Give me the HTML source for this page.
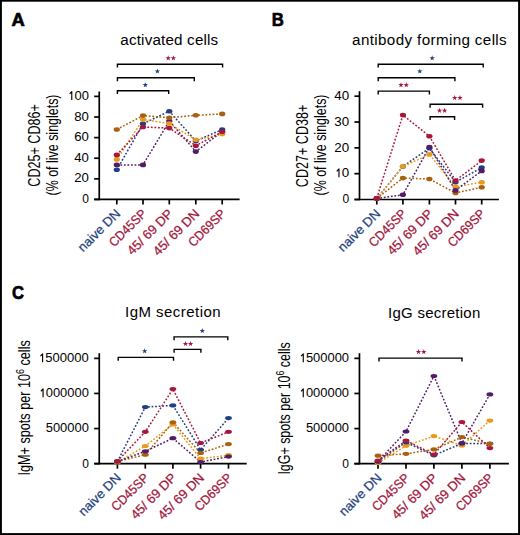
<!DOCTYPE html>
<html><head><meta charset="utf-8"><style>
html,body{margin:0;padding:0;background:#fff;width:520px;height:535px;overflow:hidden;font-family:"Liberation Sans", sans-serif;}
</style></head><body>
<svg width="520" height="535" viewBox="0 0 520 535" style="position:absolute;left:0;top:0" font-family='"Liberation Sans", sans-serif'>
<rect x="0" y="0" width="520" height="535" fill="#fff"/>
<rect x="0" y="0" width="520" height="1.7" fill="#000"/>
<rect x="0" y="0" width="1.9" height="535" fill="#000"/>
<rect x="518.1" y="0" width="1.9" height="535" fill="#000"/>
<rect x="0" y="533.1" width="520" height="1.9" fill="#000"/>
<text x="11.40" y="26.10" font-size="19.0" fill="#000" text-anchor="start" textLength="13.30" lengthAdjust="spacingAndGlyphs" font-weight="bold" stroke="#000" stroke-width="0.7">A</text>
<text x="271.80" y="26.20" font-size="19.0" fill="#000" text-anchor="start" textLength="12.10" lengthAdjust="spacingAndGlyphs" font-weight="bold" stroke="#000" stroke-width="0.7">B</text>
<text x="11.90" y="299.10" font-size="19.0" fill="#000" text-anchor="start" textLength="12.00" lengthAdjust="spacingAndGlyphs" font-weight="bold" stroke="#000" stroke-width="0.7">C</text>
<text x="120.30" y="44.50" font-size="15.2" fill="#000" text-anchor="start" textLength="97.90" lengthAdjust="spacing">activated cells</text>
<text x="352.10" y="45.00" font-size="15.2" fill="#000" text-anchor="start" textLength="154.60" lengthAdjust="spacing">antibody forming cells</text>
<text x="125.00" y="317.20" font-size="15.0" fill="#000" text-anchor="start" textLength="95.60" lengthAdjust="spacing">IgM secretion</text>
<text x="388.00" y="318.00" font-size="15.0" fill="#000" text-anchor="start" textLength="92.30" lengthAdjust="spacing">IgG secretion</text>
<line x1="99.25" y1="91.50" x2="99.25" y2="200.15" stroke="#000" stroke-width="1.7"/>
<line x1="94.30" y1="199.45" x2="239.60" y2="199.45" stroke="#000" stroke-width="1.7"/>
<line x1="94.15" y1="199.45" x2="99.25" y2="199.45" stroke="#000" stroke-width="1.7"/>
<text x="88.85" y="203.05" font-size="12" fill="#000" text-anchor="end">0</text>
<line x1="94.15" y1="178.84" x2="99.25" y2="178.84" stroke="#000" stroke-width="1.7"/>
<text x="88.85" y="182.44" font-size="12" fill="#000" text-anchor="end" textLength="14.70" lengthAdjust="spacingAndGlyphs">20</text>
<line x1="94.15" y1="158.23" x2="99.25" y2="158.23" stroke="#000" stroke-width="1.7"/>
<text x="88.85" y="161.83" font-size="12" fill="#000" text-anchor="end" textLength="14.70" lengthAdjust="spacingAndGlyphs">40</text>
<line x1="94.15" y1="137.62" x2="99.25" y2="137.62" stroke="#000" stroke-width="1.7"/>
<text x="88.85" y="141.22" font-size="12" fill="#000" text-anchor="end" textLength="14.70" lengthAdjust="spacingAndGlyphs">60</text>
<line x1="94.15" y1="117.01" x2="99.25" y2="117.01" stroke="#000" stroke-width="1.7"/>
<text x="88.85" y="120.61" font-size="12" fill="#000" text-anchor="end" textLength="14.70" lengthAdjust="spacingAndGlyphs">80</text>
<line x1="94.15" y1="96.40" x2="99.25" y2="96.40" stroke="#000" stroke-width="1.7"/>
<text x="88.85" y="100.00" font-size="12" fill="#000" text-anchor="end" textLength="21.60" lengthAdjust="spacingAndGlyphs"> 00</text>
<path d="M69.61 93.90 L71.77 91.60 V99.90" fill="none" stroke="#000" stroke-width="1.15" stroke-linejoin="round"/>
<line x1="116.80" y1="199.45" x2="116.80" y2="204.45" stroke="#000" stroke-width="1.7"/>
<line x1="143.00" y1="199.45" x2="143.00" y2="204.45" stroke="#000" stroke-width="1.7"/>
<line x1="169.30" y1="199.45" x2="169.30" y2="204.45" stroke="#000" stroke-width="1.7"/>
<line x1="195.80" y1="199.45" x2="195.80" y2="204.45" stroke="#000" stroke-width="1.7"/>
<line x1="222.20" y1="199.45" x2="222.20" y2="204.45" stroke="#000" stroke-width="1.7"/>
<path d="M116.80 164.90 L143.00 164.90 L169.30 121.00 L195.80 151.60 L222.20 131.50" fill="none" stroke="#531c68" stroke-width="1.5" stroke-dasharray="1.8 1.75"/>
<path d="M116.80 169.80 L143.00 123.80 L169.30 111.20 L195.80 141.00 L222.20 129.50" fill="none" stroke="#233f83" stroke-width="1.5" stroke-dasharray="1.8 1.75"/>
<path d="M116.80 159.40 L143.00 119.50 L169.30 123.50 L195.80 139.80 L222.20 134.00" fill="none" stroke="#e79a1c" stroke-width="1.5" stroke-dasharray="1.8 1.75"/>
<path d="M116.80 129.50 L143.00 115.60 L169.30 117.70 L195.80 115.30 L222.20 113.90" fill="none" stroke="#a8620f" stroke-width="1.5" stroke-dasharray="1.8 1.75"/>
<path d="M116.80 154.90 L143.00 127.00 L169.30 128.10 L195.80 145.70 L222.20 131.70" fill="none" stroke="#a8163c" stroke-width="1.5" stroke-dasharray="1.8 1.75"/>
<ellipse cx="116.80" cy="164.90" rx="3.1" ry="2.3" fill="#531c68"/>
<ellipse cx="143.00" cy="164.90" rx="3.1" ry="2.3" fill="#531c68"/>
<ellipse cx="169.30" cy="121.00" rx="3.1" ry="2.3" fill="#531c68"/>
<ellipse cx="195.80" cy="151.60" rx="3.1" ry="2.3" fill="#531c68"/>
<ellipse cx="222.20" cy="131.50" rx="3.1" ry="2.3" fill="#531c68"/>
<ellipse cx="116.80" cy="169.80" rx="3.1" ry="2.3" fill="#233f83"/>
<ellipse cx="143.00" cy="123.80" rx="3.1" ry="2.3" fill="#233f83"/>
<ellipse cx="169.30" cy="111.20" rx="3.1" ry="2.3" fill="#233f83"/>
<ellipse cx="195.80" cy="141.00" rx="3.1" ry="2.3" fill="#233f83"/>
<ellipse cx="222.20" cy="129.50" rx="3.1" ry="2.3" fill="#233f83"/>
<ellipse cx="116.80" cy="159.40" rx="3.1" ry="2.3" fill="#e79a1c"/>
<ellipse cx="143.00" cy="119.50" rx="3.1" ry="2.3" fill="#e79a1c"/>
<ellipse cx="169.30" cy="123.50" rx="3.1" ry="2.3" fill="#e79a1c"/>
<ellipse cx="195.80" cy="139.80" rx="3.1" ry="2.3" fill="#e79a1c"/>
<ellipse cx="222.20" cy="134.00" rx="3.1" ry="2.3" fill="#e79a1c"/>
<ellipse cx="116.80" cy="129.50" rx="3.1" ry="2.3" fill="#a8620f"/>
<ellipse cx="143.00" cy="115.60" rx="3.1" ry="2.3" fill="#a8620f"/>
<ellipse cx="169.30" cy="117.70" rx="3.1" ry="2.3" fill="#a8620f"/>
<ellipse cx="195.80" cy="115.30" rx="3.1" ry="2.3" fill="#a8620f"/>
<ellipse cx="222.20" cy="113.90" rx="3.1" ry="2.3" fill="#a8620f"/>
<ellipse cx="116.80" cy="154.90" rx="3.1" ry="2.3" fill="#a8163c"/>
<ellipse cx="143.00" cy="127.00" rx="3.1" ry="2.3" fill="#a8163c"/>
<ellipse cx="169.30" cy="128.10" rx="3.1" ry="2.3" fill="#a8163c"/>
<ellipse cx="195.80" cy="145.70" rx="3.1" ry="2.3" fill="#a8163c"/>
<ellipse cx="222.20" cy="131.70" rx="3.1" ry="2.3" fill="#a8163c"/>
<text x="0" y="0" font-size="13" fill="#27437e" stroke="#27437e" stroke-width="0.25" text-anchor="end" textLength="53.90" lengthAdjust="spacingAndGlyphs" transform="translate(121.15 214.45) rotate(-45)">naive DN</text>
<text x="0" y="0" font-size="13" fill="#a3163b" stroke="#a3163b" stroke-width="0.25" text-anchor="end" textLength="46.90" lengthAdjust="spacingAndGlyphs" transform="translate(147.35 214.45) rotate(-45)">CD45SP</text>
<text x="0" y="0" font-size="13" fill="#a3163b" stroke="#a3163b" stroke-width="0.25" text-anchor="end" textLength="58.50" lengthAdjust="spacingAndGlyphs" transform="translate(173.65 214.45) rotate(-45)">45/ 69 DP</text>
<text x="0" y="0" font-size="13" fill="#a3163b" stroke="#a3163b" stroke-width="0.25" text-anchor="end" textLength="59.30" lengthAdjust="spacingAndGlyphs" transform="translate(200.15 214.45) rotate(-45)">45/ 69 DN</text>
<text x="0" y="0" font-size="13" fill="#a3163b" stroke="#a3163b" stroke-width="0.25" text-anchor="end" textLength="46.90" lengthAdjust="spacingAndGlyphs" transform="translate(226.55 214.45) rotate(-45)">CD69SP</text>
<line x1="359.50" y1="91.20" x2="359.50" y2="200.20" stroke="#000" stroke-width="1.7"/>
<line x1="354.60" y1="199.50" x2="498.90" y2="199.50" stroke="#000" stroke-width="1.7"/>
<line x1="354.40" y1="199.50" x2="359.50" y2="199.50" stroke="#000" stroke-width="1.7"/>
<text x="349.20" y="203.20" font-size="12" fill="#000" text-anchor="end">0</text>
<line x1="354.40" y1="173.68" x2="359.50" y2="173.68" stroke="#000" stroke-width="1.7"/>
<text x="349.20" y="177.38" font-size="12" fill="#000" text-anchor="end" textLength="14.90" lengthAdjust="spacingAndGlyphs"> 0</text>
<path d="M336.74 171.28 L338.97 168.97 V177.28" fill="none" stroke="#000" stroke-width="1.15" stroke-linejoin="round"/>
<line x1="354.40" y1="147.85" x2="359.50" y2="147.85" stroke="#000" stroke-width="1.7"/>
<text x="349.20" y="151.55" font-size="12" fill="#000" text-anchor="end" textLength="14.90" lengthAdjust="spacingAndGlyphs">20</text>
<line x1="354.40" y1="122.03" x2="359.50" y2="122.03" stroke="#000" stroke-width="1.7"/>
<text x="349.20" y="125.73" font-size="12" fill="#000" text-anchor="end" textLength="14.90" lengthAdjust="spacingAndGlyphs">30</text>
<line x1="354.40" y1="96.20" x2="359.50" y2="96.20" stroke="#000" stroke-width="1.7"/>
<text x="349.20" y="99.90" font-size="12" fill="#000" text-anchor="end" textLength="14.90" lengthAdjust="spacingAndGlyphs">40</text>
<line x1="376.80" y1="199.50" x2="376.80" y2="204.50" stroke="#000" stroke-width="1.7"/>
<line x1="402.90" y1="199.50" x2="402.90" y2="204.50" stroke="#000" stroke-width="1.7"/>
<line x1="429.40" y1="199.50" x2="429.40" y2="204.50" stroke="#000" stroke-width="1.7"/>
<line x1="455.50" y1="199.50" x2="455.50" y2="204.50" stroke="#000" stroke-width="1.7"/>
<line x1="481.70" y1="199.50" x2="481.70" y2="204.50" stroke="#000" stroke-width="1.7"/>
<path d="M376.80 198.50 L402.90 178.10 L429.40 179.00 L455.50 193.00 L481.70 187.30" fill="none" stroke="#a8620f" stroke-width="1.5" stroke-dasharray="1.8 1.75"/>
<path d="M376.80 198.50 L402.90 166.50 L429.40 148.30 L455.50 182.20 L481.70 167.60" fill="none" stroke="#233f83" stroke-width="1.5" stroke-dasharray="1.8 1.75"/>
<path d="M376.80 198.50 L402.90 166.50 L429.40 154.40 L455.50 186.80 L481.70 182.20" fill="none" stroke="#e79a1c" stroke-width="1.5" stroke-dasharray="1.8 1.75"/>
<path d="M376.80 198.50 L402.90 194.80 L429.40 147.00 L455.50 190.40 L481.70 170.90" fill="none" stroke="#531c68" stroke-width="1.5" stroke-dasharray="1.8 1.75"/>
<path d="M376.80 198.10 L402.90 115.10 L429.40 136.20 L455.50 180.60 L481.70 160.60" fill="none" stroke="#a8163c" stroke-width="1.5" stroke-dasharray="1.8 1.75"/>
<ellipse cx="376.80" cy="198.50" rx="3.1" ry="2.3" fill="#a8620f"/>
<ellipse cx="402.90" cy="178.10" rx="3.1" ry="2.3" fill="#a8620f"/>
<ellipse cx="429.40" cy="179.00" rx="3.1" ry="2.3" fill="#a8620f"/>
<ellipse cx="455.50" cy="193.00" rx="3.1" ry="2.3" fill="#a8620f"/>
<ellipse cx="481.70" cy="187.30" rx="3.1" ry="2.3" fill="#a8620f"/>
<ellipse cx="376.80" cy="198.50" rx="3.1" ry="2.3" fill="#233f83"/>
<ellipse cx="402.90" cy="166.50" rx="3.1" ry="2.3" fill="#233f83"/>
<ellipse cx="429.40" cy="148.30" rx="3.1" ry="2.3" fill="#233f83"/>
<ellipse cx="455.50" cy="182.20" rx="3.1" ry="2.3" fill="#233f83"/>
<ellipse cx="481.70" cy="167.60" rx="3.1" ry="2.3" fill="#233f83"/>
<ellipse cx="376.80" cy="198.50" rx="3.1" ry="2.3" fill="#e79a1c"/>
<ellipse cx="402.90" cy="166.50" rx="3.1" ry="2.3" fill="#e79a1c"/>
<ellipse cx="429.40" cy="154.40" rx="3.1" ry="2.3" fill="#e79a1c"/>
<ellipse cx="455.50" cy="186.80" rx="3.1" ry="2.3" fill="#e79a1c"/>
<ellipse cx="481.70" cy="182.20" rx="3.1" ry="2.3" fill="#e79a1c"/>
<ellipse cx="376.80" cy="198.50" rx="3.1" ry="2.3" fill="#531c68"/>
<ellipse cx="402.90" cy="194.80" rx="3.1" ry="2.3" fill="#531c68"/>
<ellipse cx="429.40" cy="147.00" rx="3.1" ry="2.3" fill="#531c68"/>
<ellipse cx="455.50" cy="190.40" rx="3.1" ry="2.3" fill="#531c68"/>
<ellipse cx="481.70" cy="170.90" rx="3.1" ry="2.3" fill="#531c68"/>
<ellipse cx="376.80" cy="198.10" rx="3.1" ry="2.3" fill="#a8163c"/>
<ellipse cx="402.90" cy="115.10" rx="3.1" ry="2.3" fill="#a8163c"/>
<ellipse cx="429.40" cy="136.20" rx="3.1" ry="2.3" fill="#a8163c"/>
<ellipse cx="455.50" cy="180.60" rx="3.1" ry="2.3" fill="#a8163c"/>
<ellipse cx="481.70" cy="160.60" rx="3.1" ry="2.3" fill="#a8163c"/>
<text x="0" y="0" font-size="13" fill="#27437e" stroke="#27437e" stroke-width="0.25" text-anchor="end" textLength="53.90" lengthAdjust="spacingAndGlyphs" transform="translate(381.15 214.50) rotate(-45)">naive DN</text>
<text x="0" y="0" font-size="13" fill="#a3163b" stroke="#a3163b" stroke-width="0.25" text-anchor="end" textLength="46.90" lengthAdjust="spacingAndGlyphs" transform="translate(407.25 214.50) rotate(-45)">CD45SP</text>
<text x="0" y="0" font-size="13" fill="#a3163b" stroke="#a3163b" stroke-width="0.25" text-anchor="end" textLength="58.50" lengthAdjust="spacingAndGlyphs" transform="translate(433.75 214.50) rotate(-45)">45/ 69 DP</text>
<text x="0" y="0" font-size="13" fill="#a3163b" stroke="#a3163b" stroke-width="0.25" text-anchor="end" textLength="59.30" lengthAdjust="spacingAndGlyphs" transform="translate(459.85 214.50) rotate(-45)">45/ 69 DN</text>
<text x="0" y="0" font-size="13" fill="#a3163b" stroke="#a3163b" stroke-width="0.25" text-anchor="end" textLength="46.90" lengthAdjust="spacingAndGlyphs" transform="translate(486.05 214.50) rotate(-45)">CD69SP</text>
<line x1="99.25" y1="353.20" x2="99.25" y2="464.35" stroke="#000" stroke-width="1.7"/>
<line x1="94.30" y1="463.65" x2="246.70" y2="463.65" stroke="#000" stroke-width="1.7"/>
<line x1="94.15" y1="463.65" x2="99.25" y2="463.65" stroke="#000" stroke-width="1.7"/>
<text x="88.85" y="467.55" font-size="12" fill="#000" text-anchor="end">0</text>
<line x1="94.15" y1="428.55" x2="99.25" y2="428.55" stroke="#000" stroke-width="1.7"/>
<text x="88.85" y="432.45" font-size="12" fill="#000" text-anchor="end" textLength="43.10" lengthAdjust="spacingAndGlyphs">500000</text>
<line x1="94.15" y1="393.46" x2="99.25" y2="393.46" stroke="#000" stroke-width="1.7"/>
<text x="88.85" y="397.36" font-size="12" fill="#000" text-anchor="end" textLength="50.30" lengthAdjust="spacingAndGlyphs"> 000000</text>
<path d="M40.91 391.26 L43.06 388.96 V397.26" fill="none" stroke="#000" stroke-width="1.15" stroke-linejoin="round"/>
<line x1="94.15" y1="358.37" x2="99.25" y2="358.37" stroke="#000" stroke-width="1.7"/>
<text x="88.85" y="362.26" font-size="12" fill="#000" text-anchor="end" textLength="50.80" lengthAdjust="spacingAndGlyphs"> 500000</text>
<path d="M40.43 356.17 L42.60 353.87 V362.16" fill="none" stroke="#000" stroke-width="1.15" stroke-linejoin="round"/>
<line x1="117.40" y1="463.65" x2="117.40" y2="468.65" stroke="#000" stroke-width="1.7"/>
<line x1="145.30" y1="463.65" x2="145.30" y2="468.65" stroke="#000" stroke-width="1.7"/>
<line x1="172.90" y1="463.65" x2="172.90" y2="468.65" stroke="#000" stroke-width="1.7"/>
<line x1="200.60" y1="463.65" x2="200.60" y2="468.65" stroke="#000" stroke-width="1.7"/>
<line x1="228.50" y1="463.65" x2="228.50" y2="468.65" stroke="#000" stroke-width="1.7"/>
<path d="M117.40 461.50 L145.30 407.10 L172.90 405.40 L200.60 449.80 L228.50 418.10" fill="none" stroke="#233f83" stroke-width="1.5" stroke-dasharray="1.8 1.75"/>
<path d="M117.40 462.50 L145.30 446.00 L172.90 424.40 L200.60 458.70 L228.50 455.10" fill="none" stroke="#e79a1c" stroke-width="1.5" stroke-dasharray="1.8 1.75"/>
<path d="M117.40 461.50 L145.30 454.70 L172.90 422.30 L200.60 453.00 L228.50 444.10" fill="none" stroke="#a8620f" stroke-width="1.5" stroke-dasharray="1.8 1.75"/>
<path d="M117.40 461.50 L145.30 451.30 L172.90 438.20 L200.60 462.00 L228.50 456.60" fill="none" stroke="#531c68" stroke-width="1.5" stroke-dasharray="1.8 1.75"/>
<path d="M117.40 461.10 L145.30 431.80 L172.90 389.10 L200.60 443.00 L228.50 431.80" fill="none" stroke="#a8163c" stroke-width="1.5" stroke-dasharray="1.8 1.75"/>
<ellipse cx="117.40" cy="461.50" rx="3.4" ry="2.1" fill="#233f83"/>
<ellipse cx="145.30" cy="407.10" rx="3.4" ry="2.1" fill="#233f83"/>
<ellipse cx="172.90" cy="405.40" rx="3.4" ry="2.1" fill="#233f83"/>
<ellipse cx="200.60" cy="449.80" rx="3.4" ry="2.1" fill="#233f83"/>
<ellipse cx="228.50" cy="418.10" rx="3.4" ry="2.1" fill="#233f83"/>
<ellipse cx="117.40" cy="462.50" rx="3.4" ry="2.1" fill="#e79a1c"/>
<ellipse cx="145.30" cy="446.00" rx="3.4" ry="2.1" fill="#e79a1c"/>
<ellipse cx="172.90" cy="424.40" rx="3.4" ry="2.1" fill="#e79a1c"/>
<ellipse cx="200.60" cy="458.70" rx="3.4" ry="2.1" fill="#e79a1c"/>
<ellipse cx="228.50" cy="455.10" rx="3.4" ry="2.1" fill="#e79a1c"/>
<ellipse cx="117.40" cy="461.50" rx="3.4" ry="2.1" fill="#a8620f"/>
<ellipse cx="145.30" cy="454.70" rx="3.4" ry="2.1" fill="#a8620f"/>
<ellipse cx="172.90" cy="422.30" rx="3.4" ry="2.1" fill="#a8620f"/>
<ellipse cx="200.60" cy="453.00" rx="3.4" ry="2.1" fill="#a8620f"/>
<ellipse cx="228.50" cy="444.10" rx="3.4" ry="2.1" fill="#a8620f"/>
<ellipse cx="117.40" cy="461.50" rx="3.4" ry="2.1" fill="#531c68"/>
<ellipse cx="145.30" cy="451.30" rx="3.4" ry="2.1" fill="#531c68"/>
<ellipse cx="172.90" cy="438.20" rx="3.4" ry="2.1" fill="#531c68"/>
<ellipse cx="200.60" cy="462.00" rx="3.4" ry="2.1" fill="#531c68"/>
<ellipse cx="228.50" cy="456.60" rx="3.4" ry="2.1" fill="#531c68"/>
<ellipse cx="117.40" cy="461.10" rx="3.4" ry="2.1" fill="#a8163c"/>
<ellipse cx="145.30" cy="431.80" rx="3.4" ry="2.1" fill="#a8163c"/>
<ellipse cx="172.90" cy="389.10" rx="3.4" ry="2.1" fill="#a8163c"/>
<ellipse cx="200.60" cy="443.00" rx="3.4" ry="2.1" fill="#a8163c"/>
<ellipse cx="228.50" cy="431.80" rx="3.4" ry="2.1" fill="#a8163c"/>
<text x="0" y="0" font-size="13" fill="#27437e" stroke="#27437e" stroke-width="0.25" text-anchor="end" textLength="53.90" lengthAdjust="spacingAndGlyphs" transform="translate(121.75 478.65) rotate(-45)">naive DN</text>
<text x="0" y="0" font-size="13" fill="#a3163b" stroke="#a3163b" stroke-width="0.25" text-anchor="end" textLength="46.90" lengthAdjust="spacingAndGlyphs" transform="translate(149.65 478.65) rotate(-45)">CD45SP</text>
<text x="0" y="0" font-size="13" fill="#a3163b" stroke="#a3163b" stroke-width="0.25" text-anchor="end" textLength="58.50" lengthAdjust="spacingAndGlyphs" transform="translate(177.25 478.65) rotate(-45)">45/ 69 DP</text>
<text x="0" y="0" font-size="13" fill="#a3163b" stroke="#a3163b" stroke-width="0.25" text-anchor="end" textLength="59.30" lengthAdjust="spacingAndGlyphs" transform="translate(204.95 478.65) rotate(-45)">45/ 69 DN</text>
<text x="0" y="0" font-size="13" fill="#a3163b" stroke="#a3163b" stroke-width="0.25" text-anchor="end" textLength="46.90" lengthAdjust="spacingAndGlyphs" transform="translate(232.85 478.65) rotate(-45)">CD69SP</text>
<line x1="359.45" y1="353.20" x2="359.45" y2="464.40" stroke="#000" stroke-width="1.7"/>
<line x1="354.40" y1="463.70" x2="508.90" y2="463.70" stroke="#000" stroke-width="1.7"/>
<line x1="354.35" y1="463.70" x2="359.45" y2="463.70" stroke="#000" stroke-width="1.7"/>
<text x="349.05" y="467.60" font-size="12" fill="#000" text-anchor="end">0</text>
<line x1="354.35" y1="428.58" x2="359.45" y2="428.58" stroke="#000" stroke-width="1.7"/>
<text x="349.05" y="432.48" font-size="12" fill="#000" text-anchor="end" textLength="43.10" lengthAdjust="spacingAndGlyphs">500000</text>
<line x1="354.35" y1="393.47" x2="359.45" y2="393.47" stroke="#000" stroke-width="1.7"/>
<text x="349.05" y="397.37" font-size="12" fill="#000" text-anchor="end" textLength="50.30" lengthAdjust="spacingAndGlyphs"> 000000</text>
<path d="M301.11 391.27 L303.26 388.97 V397.27" fill="none" stroke="#000" stroke-width="1.15" stroke-linejoin="round"/>
<line x1="354.35" y1="358.36" x2="359.45" y2="358.36" stroke="#000" stroke-width="1.7"/>
<text x="349.05" y="362.25" font-size="12" fill="#000" text-anchor="end" textLength="50.30" lengthAdjust="spacingAndGlyphs"> 500000</text>
<path d="M301.11 356.16 L303.26 353.86 V362.15" fill="none" stroke="#000" stroke-width="1.15" stroke-linejoin="round"/>
<line x1="378.00" y1="463.70" x2="378.00" y2="468.70" stroke="#000" stroke-width="1.7"/>
<line x1="406.00" y1="463.70" x2="406.00" y2="468.70" stroke="#000" stroke-width="1.7"/>
<line x1="433.90" y1="463.70" x2="433.90" y2="468.70" stroke="#000" stroke-width="1.7"/>
<line x1="461.90" y1="463.70" x2="461.90" y2="468.70" stroke="#000" stroke-width="1.7"/>
<line x1="489.90" y1="463.70" x2="489.90" y2="468.70" stroke="#000" stroke-width="1.7"/>
<path d="M378.00 463.00 L406.00 445.80 L433.90 436.10 L461.90 445.60 L489.90 420.60" fill="none" stroke="#e79a1c" stroke-width="1.5" stroke-dasharray="1.8 1.75"/>
<path d="M378.00 461.50 L406.00 442.30 L433.90 455.30 L461.90 443.50 L489.90 443.50" fill="none" stroke="#233f83" stroke-width="1.5" stroke-dasharray="1.8 1.75"/>
<path d="M378.00 455.70 L406.00 453.80 L433.90 449.40 L461.90 437.10 L489.90 443.80" fill="none" stroke="#a8620f" stroke-width="1.5" stroke-dasharray="1.8 1.75"/>
<path d="M378.00 461.50 L406.00 431.50 L433.90 376.00 L461.90 443.20 L489.90 394.40" fill="none" stroke="#531c68" stroke-width="1.5" stroke-dasharray="1.8 1.75"/>
<path d="M378.00 460.50 L406.00 440.60 L433.90 454.50 L461.90 422.00 L489.90 448.10" fill="none" stroke="#a8163c" stroke-width="1.5" stroke-dasharray="1.8 1.75"/>
<ellipse cx="378.00" cy="463.00" rx="3.4" ry="2.1" fill="#e79a1c"/>
<ellipse cx="406.00" cy="445.80" rx="3.4" ry="2.1" fill="#e79a1c"/>
<ellipse cx="433.90" cy="436.10" rx="3.4" ry="2.1" fill="#e79a1c"/>
<ellipse cx="461.90" cy="445.60" rx="3.4" ry="2.1" fill="#e79a1c"/>
<ellipse cx="489.90" cy="420.60" rx="3.4" ry="2.1" fill="#e79a1c"/>
<ellipse cx="378.00" cy="461.50" rx="3.4" ry="2.1" fill="#233f83"/>
<ellipse cx="406.00" cy="442.30" rx="3.4" ry="2.1" fill="#233f83"/>
<ellipse cx="433.90" cy="455.30" rx="3.4" ry="2.1" fill="#233f83"/>
<ellipse cx="461.90" cy="443.50" rx="3.4" ry="2.1" fill="#233f83"/>
<ellipse cx="489.90" cy="443.50" rx="3.4" ry="2.1" fill="#233f83"/>
<ellipse cx="378.00" cy="455.70" rx="3.4" ry="2.1" fill="#a8620f"/>
<ellipse cx="406.00" cy="453.80" rx="3.4" ry="2.1" fill="#a8620f"/>
<ellipse cx="433.90" cy="449.40" rx="3.4" ry="2.1" fill="#a8620f"/>
<ellipse cx="461.90" cy="437.10" rx="3.4" ry="2.1" fill="#a8620f"/>
<ellipse cx="489.90" cy="443.80" rx="3.4" ry="2.1" fill="#a8620f"/>
<ellipse cx="378.00" cy="461.50" rx="3.4" ry="2.1" fill="#531c68"/>
<ellipse cx="406.00" cy="431.50" rx="3.4" ry="2.1" fill="#531c68"/>
<ellipse cx="433.90" cy="376.00" rx="3.4" ry="2.1" fill="#531c68"/>
<ellipse cx="461.90" cy="443.20" rx="3.4" ry="2.1" fill="#531c68"/>
<ellipse cx="489.90" cy="394.40" rx="3.4" ry="2.1" fill="#531c68"/>
<ellipse cx="378.00" cy="460.50" rx="3.4" ry="2.1" fill="#a8163c"/>
<ellipse cx="406.00" cy="440.60" rx="3.4" ry="2.1" fill="#a8163c"/>
<ellipse cx="433.90" cy="454.50" rx="3.4" ry="2.1" fill="#a8163c"/>
<ellipse cx="461.90" cy="422.00" rx="3.4" ry="2.1" fill="#a8163c"/>
<ellipse cx="489.90" cy="448.10" rx="3.4" ry="2.1" fill="#a8163c"/>
<text x="0" y="0" font-size="13" fill="#27437e" stroke="#27437e" stroke-width="0.25" text-anchor="end" textLength="53.90" lengthAdjust="spacingAndGlyphs" transform="translate(382.35 478.70) rotate(-45)">naive DN</text>
<text x="0" y="0" font-size="13" fill="#a3163b" stroke="#a3163b" stroke-width="0.25" text-anchor="end" textLength="46.90" lengthAdjust="spacingAndGlyphs" transform="translate(410.35 478.70) rotate(-45)">CD45SP</text>
<text x="0" y="0" font-size="13" fill="#a3163b" stroke="#a3163b" stroke-width="0.25" text-anchor="end" textLength="58.50" lengthAdjust="spacingAndGlyphs" transform="translate(438.25 478.70) rotate(-45)">45/ 69 DP</text>
<text x="0" y="0" font-size="13" fill="#a3163b" stroke="#a3163b" stroke-width="0.25" text-anchor="end" textLength="59.30" lengthAdjust="spacingAndGlyphs" transform="translate(466.25 478.70) rotate(-45)">45/ 69 DN</text>
<text x="0" y="0" font-size="13" fill="#a3163b" stroke="#a3163b" stroke-width="0.25" text-anchor="end" textLength="46.90" lengthAdjust="spacingAndGlyphs" transform="translate(494.25 478.70) rotate(-45)">CD69SP</text>
<path d="M117.40 67.60 V64.20 H222.60 V67.60" fill="none" stroke="#000" stroke-width="1.4"/>
<polygon points="168.20,55.25 168.87,57.18 170.91,57.22 169.28,58.45 169.88,60.41 168.20,59.24 166.52,60.41 167.12,58.45 165.49,57.22 167.53,57.18" fill="#a8163c"/>
<polygon points="173.40,55.25 174.07,57.18 176.11,57.22 174.48,58.45 175.08,60.41 173.40,59.24 171.72,60.41 172.32,58.45 170.69,57.22 172.73,57.18" fill="#a8163c"/>
<path d="M117.40 81.20 V77.80 H194.30 V81.20" fill="none" stroke="#000" stroke-width="1.4"/>
<polygon points="157.40,68.45 158.07,70.38 160.11,70.42 158.48,71.65 159.08,73.61 157.40,72.44 155.72,73.61 156.32,71.65 154.69,70.42 156.73,70.38" fill="#233f83"/>
<path d="M117.40 94.10 V90.70 H168.70 V94.10" fill="none" stroke="#000" stroke-width="1.4"/>
<polygon points="145.30,82.15 145.97,84.08 148.01,84.12 146.38,85.35 146.98,87.31 145.30,86.14 143.62,87.31 144.22,85.35 142.59,84.12 144.63,84.08" fill="#233f83"/>
<path d="M378.20 67.60 V64.20 H483.20 V67.60" fill="none" stroke="#000" stroke-width="1.4"/>
<polygon points="432.20,55.25 432.87,57.18 434.91,57.22 433.28,58.45 433.88,60.41 432.20,59.24 430.52,60.41 431.12,58.45 429.49,57.22 431.53,57.18" fill="#233f83"/>
<path d="M378.20 81.20 V77.80 H454.90 V81.20" fill="none" stroke="#000" stroke-width="1.4"/>
<polygon points="419.80,68.45 420.47,70.38 422.51,70.42 420.88,71.65 421.48,73.61 419.80,72.44 418.12,73.61 418.72,71.65 417.09,70.42 419.13,70.38" fill="#233f83"/>
<path d="M378.20 94.50 V91.10 H429.40 V94.50" fill="none" stroke="#000" stroke-width="1.4"/>
<polygon points="401.00,82.15 401.67,84.08 403.71,84.12 402.08,85.35 402.68,87.31 401.00,86.14 399.32,87.31 399.92,85.35 398.29,84.12 400.33,84.08" fill="#a8163c"/>
<polygon points="406.30,82.15 406.97,84.08 409.01,84.12 407.38,85.35 407.98,87.31 406.30,86.14 404.62,87.31 405.22,85.35 403.59,84.12 405.63,84.08" fill="#a8163c"/>
<path d="M430.10 107.70 V104.30 H482.60 V107.70" fill="none" stroke="#000" stroke-width="1.4"/>
<polygon points="454.70,95.05 455.37,96.98 457.41,97.02 455.78,98.25 456.38,100.21 454.70,99.04 453.02,100.21 453.62,98.25 451.99,97.02 454.03,96.98" fill="#a8163c"/>
<polygon points="460.00,95.05 460.67,96.98 462.71,97.02 461.08,98.25 461.68,100.21 460.00,99.04 458.32,100.21 458.92,98.25 457.29,97.02 459.33,96.98" fill="#a8163c"/>
<path d="M430.10 120.10 V116.70 H454.60 V120.10" fill="none" stroke="#000" stroke-width="1.4"/>
<polygon points="439.50,107.85 440.17,109.78 442.21,109.82 440.58,111.05 441.18,113.01 439.50,111.84 437.82,113.01 438.42,111.05 436.79,109.82 438.83,109.78" fill="#a8163c"/>
<polygon points="444.60,107.85 445.27,109.78 447.31,109.82 445.68,111.05 446.28,113.01 444.60,111.84 442.92,113.01 443.52,111.05 441.89,109.82 443.93,109.78" fill="#a8163c"/>
<path d="M174.10 340.30 V336.90 H227.80 V340.30" fill="none" stroke="#000" stroke-width="1.4"/>
<polygon points="202.30,327.95 202.97,329.88 205.01,329.92 203.38,331.15 203.98,333.11 202.30,331.94 200.62,333.11 201.22,331.15 199.59,329.92 201.63,329.88" fill="#233f83"/>
<path d="M174.10 352.80 V349.40 H200.90 V352.80" fill="none" stroke="#000" stroke-width="1.4"/>
<polygon points="185.50,340.95 186.17,342.88 188.21,342.92 186.58,344.15 187.18,346.11 185.50,344.94 183.82,346.11 184.42,344.15 182.79,342.92 184.83,342.88" fill="#a8163c"/>
<polygon points="190.60,340.95 191.27,342.88 193.31,342.92 191.68,344.15 192.28,346.11 190.60,344.94 188.92,346.11 189.52,344.15 187.89,342.92 189.93,342.88" fill="#a8163c"/>
<path d="M118.20 360.80 V357.40 H173.50 V360.80" fill="none" stroke="#000" stroke-width="1.4"/>
<polygon points="144.70,348.35 145.37,350.28 147.41,350.32 145.78,351.55 146.38,353.51 144.70,352.34 143.02,353.51 143.62,351.55 141.99,350.32 144.03,350.28" fill="#233f83"/>
<path d="M379.00 361.50 V358.10 H462.00 V361.50" fill="none" stroke="#000" stroke-width="1.4"/>
<polygon points="418.50,349.05 419.17,350.98 421.21,351.02 419.58,352.25 420.18,354.21 418.50,353.04 416.82,354.21 417.42,352.25 415.79,351.02 417.83,350.98" fill="#a8163c"/>
<polygon points="423.80,349.05 424.47,350.98 426.51,351.02 424.88,352.25 425.48,354.21 423.80,353.04 422.12,354.21 422.72,352.25 421.09,351.02 423.13,350.98" fill="#a8163c"/>
<text x="0" y="0" font-size="15.6" textLength="82.50" lengthAdjust="spacingAndGlyphs" transform="translate(40.20 186.70) rotate(-90)">CD25+ CD86+</text>
<text x="0" y="0" font-size="15.6" textLength="101.00" lengthAdjust="spacingAndGlyphs" transform="translate(58.30 195.50) rotate(-90)">(% of live singlets)</text>
<text x="0" y="0" font-size="15.6" textLength="82.60" lengthAdjust="spacingAndGlyphs" transform="translate(307.90 187.20) rotate(-90)">CD27+ CD38+</text>
<text x="0" y="0" font-size="15.6" textLength="101.00" lengthAdjust="spacingAndGlyphs" transform="translate(326.00 195.50) rotate(-90)">(% of live singlets)</text>
<text x="0" y="0" font-size="15.6" textLength="135.40" lengthAdjust="spacingAndGlyphs" transform="translate(30.10 475.60) rotate(-90)">IgM+ spots per 10<tspan dy="-6" font-size="11">6</tspan><tspan dy="6"> cells</tspan></text>
<text x="0" y="0" font-size="15.6" textLength="132.30" lengthAdjust="spacingAndGlyphs" transform="translate(290.10 474.60) rotate(-90)">IgG+ spots per 10<tspan dy="-6" font-size="11">6</tspan><tspan dy="6"> cells</tspan></text>
</svg>
</body></html>
